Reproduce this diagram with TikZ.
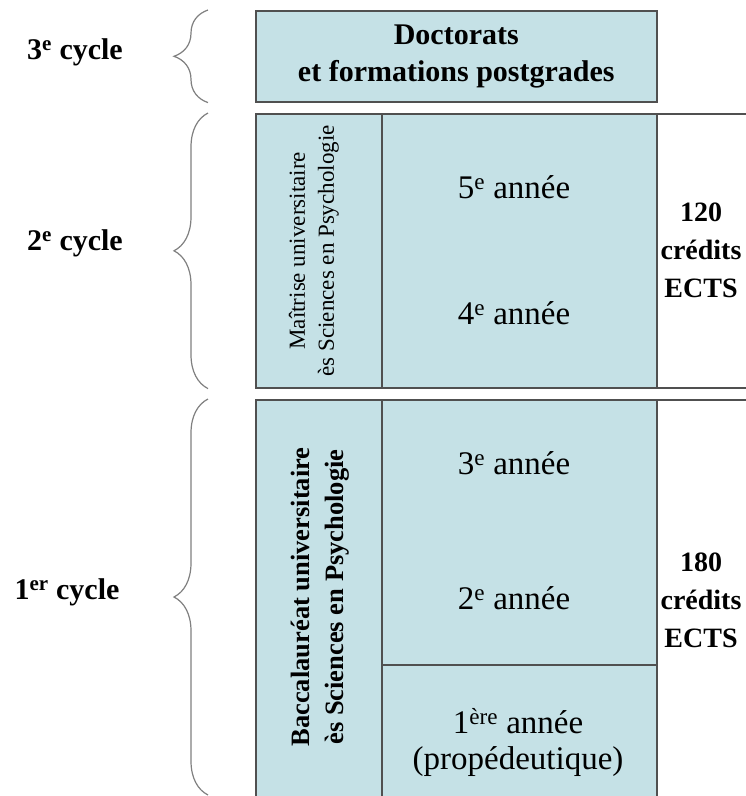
\documentclass[tikz,border=0pt]{standalone}
\usepackage{fontspec}
\setmainfont{Liberation Serif}
\usepackage{xcolor}
\usepackage{tikz}
\usetikzlibrary{positioning, decorations.pathreplacing}
\definecolor{cellblue}{HTML}{C5E1E6}
\definecolor{linegray}{HTML}{505050}
\tikzset{
    cell/.style={rectangle, draw=linegray, line width=1.6pt, fill=cellblue, anchor=north west, inner sep=0pt},
    ectsbox/.style={rectangle, draw=linegray, line width=1.6pt, fill=white, anchor=north west, inner sep=0pt},
    cyclelabel/.style={font=\fontsize{30}{36}\selectfont\bfseries},
    yearlabel/.style={font=\fontsize{33}{36}\selectfont, align=center},
    ectslabel/.style={font=\fontsize{28}{38}\selectfont\bfseries, align=center},
    degreelabel/.style={rotate=90, align=center},
    curly/.style={decorate, decoration={brace, amplitude=34pt}, draw=gray, line width=1.2pt},
}
\begin{document}
\begin{tikzpicture}[x=1pt, y=-1pt]
    \useasboundingbox[fill=white] (0,0) rectangle (746,796);
    \node[cell, minimum width=401pt, minimum height=91pt, font=\fontsize{30}{37}\selectfont\bfseries, align=center] (doc) at (255,10) {Doctorats\\et formations postgrades};
    \node[cell, minimum width=126pt, minimum height=274pt] (mas) at (255,113) {};
    \node[cell, minimum width=275pt, minimum height=274pt] (masyears) at (381,113) {};
    \node[ectsbox, minimum width=120pt, minimum height=274pt] (masects) at (656,113) {};
    \node[cell, minimum width=126pt, minimum height=420pt] (bac) at (255,399) {};
    \node[cell, minimum width=275pt, minimum height=265pt] (bacyears) at (381,399) {};
    \node[cell, minimum width=275pt, minimum height=155pt] (prop) at (381,664) {};
    \node[ectsbox, minimum width=120pt, minimum height=420pt] (bacects) at (656,399) {};
    \node[degreelabel, font=\fontsize{23}{29}\selectfont] (mastxt) at ([xshift=-5pt]mas.center) {Maîtrise universitaire\\ès Sciences en Psychologie};
    \node[degreelabel, font=\fontsize{26.5}{34}\selectfont\bfseries] (bactxt) at (320,597) {Baccalauréat universitaire\\ès Sciences en Psychologie};
    \node[yearlabel] (y5) at (514,187) {5\textsuperscript{e} année};
    \node[yearlabel] (y4) at (514,313) {4\textsuperscript{e} année};
    \node[yearlabel] (y3) at (514,463) {3\textsuperscript{e} année};
    \node[yearlabel] (y2) at (514,598) {2\textsuperscript{e} année};
    \node[yearlabel] (y1) at (518,742) {1\textsuperscript{ère} année\\(propédeutique)};
    \node[ectslabel] (e120) at (701,250) {120\\crédits\\ECTS};
    \node[ectslabel] (e180) at (701,600) {180\\crédits\\ECTS};
    \node[cyclelabel] (c3) at (75,52) {3\textsuperscript{e} cycle};
    \node[cyclelabel] (c2) at (75,243) {2\textsuperscript{e} cycle};
    \node[cyclelabel] (c1) at (67,592) {1\textsuperscript{er} cycle};
    \coordinate (bacend) at (208,795);
    \draw[curly] ([xshift=-47pt]doc.south west) -- ([xshift=-47pt]doc.north west);
    \draw[curly] ([xshift=-47pt]mas.south west) -- ([xshift=-47pt]mas.north west);
    \draw[curly] (bacend) -- ([xshift=-47pt]bac.north west);
\end{tikzpicture}
\end{document}
